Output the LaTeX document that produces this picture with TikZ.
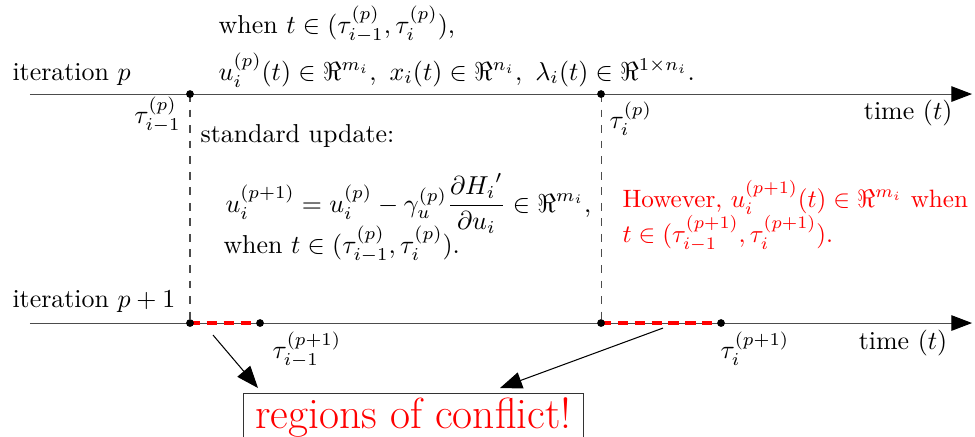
\documentclass[tikz,border=0pt]{standalone}
\usepackage{amsmath}
\usepackage{amssymb}
\usetikzlibrary{arrows.meta}

\begin{document}
\begin{tikzpicture}[
  axis/.style={black!70, -{Triangle[length=8pt,width=6pt,color=black]}},
  conflict/.style={red, line width=1.5pt, dash pattern=on 4pt off 2.5pt},
  pointer/.style={-{Triangle[length=8.5pt,width=6.5pt]}},
  lbl/.style={inner sep=0pt}]

  \useasboundingbox (0,0) rectangle (13.229,5.916);

  \coordinate (p0) at (0.407, 4.640);
  \coordinate (p1) at (13.189, 4.640);
  \coordinate (q0) at (0.407, 1.533);
  \coordinate (q1) at (13.189, 1.533);

  \coordinate (ta) at (2.578, 4.640); % tau_{i-1}^{(p)}
  \coordinate (tb) at (8.155, 4.640); % tau_i^{(p)}
  \coordinate (sa) at (2.578, 1.533);
  \coordinate (sb) at (8.155, 1.533);
  \coordinate (ua) at (3.528, 1.533); % tau_{i-1}^{(p+1)}
  \coordinate (ub) at (9.783, 1.533); % tau_i^{(p+1)}

  \draw[axis] (p0) -- (p1);
  \draw[axis] (q0) -- (q1);

  \draw[black!70, dashed] (ta) -- (sa);
  \draw[black!70, dashed] (tb) -- (sb);

  \draw[conflict] (sa) -- (ua);
  \draw[conflict] (sb) -- (ub);

  \foreach \c in {ta,tb,sa,sb,ua,ub}
    \fill (\c) circle (1.5pt);

  % iteration p
  \node[lbl, anchor=base west] (itp) at (0.163, 4.830) {iteration $p$};
  \node[lbl, anchor=base east] (tmp) at (12.930, 4.288) {time $(t)$};
  \node[lbl, anchor=base west] (wp) at (2.960, 5.468)
    {when $t \in (\tau_{i-1}^{(p)}, \tau_i^{(p)})$,};
  \node[lbl, anchor=base west] (vp) at (2.960, 4.830)
    {$u_i^{(p)}(t) \in \Re^{m_i},\ x_i(t) \in \Re^{n_i},\ \lambda_i(t) \in \Re^{1\times n_i}$.};
  \node[lbl, anchor=north east] (tap) at (2.460, 4.613) {$\tau_{i-1}^{(p)}$};
  \node[lbl, anchor=north west] (tbp) at (8.263, 4.545) {$\tau_i^{(p)}$};

  % standard update
  \node[lbl, anchor=base west] (su) at (2.714, 3.976) {standard update:};
  \node[lbl, anchor=base west] (eq) at (3.053, 3.039)
    {$\displaystyle u_i^{(p+1)} = u_i^{(p)} - \gamma_u^{(p)} \frac{\partial {H_i}'}{\partial u_i} \in \Re^{m_i}$,};
  \node[lbl, anchor=base west] (wu) at (3.026, 2.483)
    {when $t \in (\tau_{i-1}^{(p)}, \tau_i^{(p)})$.};

  % however
  \node[lbl, anchor=base west, red, scale=0.97] (hw) at (8.440, 3.107)
    {However, $u_i^{(p+1)}(t) \in \Re^{m_i}$ when};
  \node[lbl, anchor=base west, red, scale=0.97] (hw2) at (8.440, 2.632)
    {$t \in (\tau_{i-1}^{(p+1)}, \tau_i^{(p+1)})$.};

  % iteration p+1
  \node[lbl, anchor=base west] (itq) at (0.163, 1.750) {iteration $p+1$};
  \node[lbl, anchor=base east] (tmq) at (12.860, 1.180) {time $(t)$};
  \node[lbl, anchor=north west] (taq) at (3.691, 1.425) {$\tau_{i-1}^{(p+1)}$};
  \node[lbl, anchor=north west] (tbq) at (9.770, 1.425) {$\tau_i^{(p+1)}$};

  \node[draw, black!80, text=red, font=\fontsize{16.8}{20}\selectfont,
        inner xsep=4.5pt, inner ysep=1.5pt, anchor=north]
    (conf) at (5.610, 0.583) {regions of conflict!};

  \coordinate (la0) at (2.890, 1.370);
  \coordinate (la1) at (3.501, 0.651);
  \coordinate (rb0) at (8.996, 1.465);
  \coordinate (rb1) at (6.784, 0.651);

  \draw[pointer] (la0) -- (la1);
  \draw[pointer] (rb0) -- (rb1);

\end{tikzpicture}
\end{document}
